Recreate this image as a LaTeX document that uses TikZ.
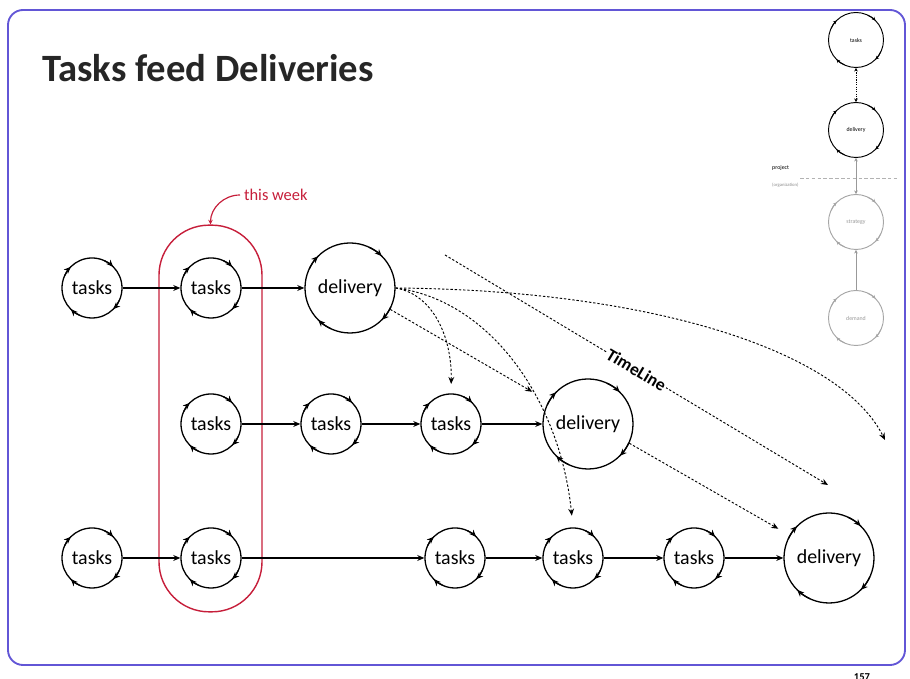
\documentclass[tikz,border=0pt]{standalone}
\usepackage{fontspec}
\setmainfont{Carlito}
\usetikzlibrary{arrows.meta}

\definecolor{framecol}{RGB}{98,86,214}
\definecolor{weekred}{RGB}{198,30,58}

\begin{document}
\begin{tikzpicture}[
		x=0.03cm, y=0.03cm,
		>={Stealth[length=6pt,width=5pt]},
		tasks/.style={circle, draw, line width=1.1pt, minimum size=1.8cm, inner sep=0pt, font=\fontsize{17}{20}\selectfont},
		delivery/.style={tasks, minimum size=2.7cm},
		mini/.style={circle, draw, line width=0.8pt, minimum size=1.65cm, inner sep=0pt, font=\fontsize{5}{6}\selectfont},
		faded/.style={mini, draw=black!35, text=black!40},
		flow/.style={->, line width=1.1pt},
		feed/.style={->, line width=0.8pt, dash pattern=on 2pt off 1.6pt, shorten >=8pt}
		]
		
		\useasboundingbox (0,0) rectangle (910,679);
		\draw[framecol, line width=1.6pt, rounded corners=0.45cm] (8,14) rectangle (905,669);
		
		\node[anchor=base west, inner sep=0pt, font=\bfseries\fontsize{33}{38}\selectfont, text=black!85] (title) at (42,597) {Tasks feed Deliveries};
		\node[font=\bfseries\fontsize{9}{10}\selectfont] (page) at (862,2) {157};
		
		% ---------------------------------------------------------
		% This week
		% ---------------------------------------------------------
		\node[draw=weekred, line width=1.2pt, rounded corners=1.5cm, minimum width=3.09cm, minimum height=11.6cm] (week) at (210.5,260.5) {};
		\node[anchor=west, text=weekred, font=\fontsize{14}{16}\selectfont] (week label) at (240,484) {this week};
		\draw[-{Stealth[length=4pt,width=4pt]}, weekred, line width=1pt] (week label.west) to[out=180, in=90] (week.north);
		
		% ---------------------------------------------------------
		% Rows of tasks and deliveries
		% ---------------------------------------------------------
		\node[tasks] (t11) at (92,391) {tasks};
		\node[tasks] (t12) at (211,391) {tasks};
		\node[delivery] (d1) at (350,391) {delivery};
		
		\node[tasks] (t21) at (211,255) {tasks};
		\node[tasks] (t22) at (331,255) {tasks};
		\node[tasks] (t23) at (451,255) {tasks};
		\node[delivery] (d2) at (588,255) {delivery};
		
		\node[tasks] (t31) at (92,121) {tasks};
		\node[tasks] (t32) at (211,121) {tasks};
		\node[tasks] (t33) at (455,121) {tasks};
		\node[tasks] (t34) at (573,121) {tasks};
		\node[tasks] (t35) at (694,121) {tasks};
		\node[delivery] (d3) at (829,121) {delivery};
		
		% Turning arrows round each circle
		\foreach \n/\r in {t11/30, t12/30, d1/45, t21/30, t22/30, t23/30, d2/45, t31/30, t32/30, t33/30, t34/30, t35/30, d3/45} {
			\foreach \a [evaluate=\a as \b using \a+20] in {135, 45, -45, -135} {
				\draw[->, line width=1.1pt] ([shift={(\b:\r)}]\n.center) arc[start angle=\b, end angle=\a, radius=\r];
			}
		}
		
		% Flow along the rows
		\draw[flow] (t11) -- (t12);
		\draw[flow] (t12) -- (d1);
		\draw[flow] (t21) -- (t22);
		\draw[flow] (t22) -- (t23);
		\draw[flow] (t23) -- (d2);
		\draw[flow] (t31) -- (t32);
		\draw[flow] (t32) -- (t33);
		\draw[flow] (t33) -- (t34);
		\draw[flow] (t34) -- (t35);
		\draw[flow] (t35) -- (d3);
		
		% ---------------------------------------------------------
		% Deliveries feeding later work, and the time line
		% ---------------------------------------------------------
		\coordinate (time start) at (445,424);
		\coordinate (time end) at (828,194);
		\coordinate (far end) at (885,239);
		
		\draw[feed, shorten >=0pt] (time start) -- node[sloped, fill=white, inner sep=1pt, font=\bfseries\fontsize{15}{18}\selectfont] {TimeLine} (time end);
		\draw[feed, shorten >=0pt] (d1.east) .. controls (650,389) and (840,329) .. (far end);
		\draw[feed] (d1.east) .. controls (435,384) and (452,339) .. (t23.north);
		\draw[feed, shorten >=10pt] (d1.east) .. controls (490,379) and (560,279) .. (t34.north);
		\draw[feed, shorten >=16pt] (d1.-28) -- (d2.150);
		\draw[feed, shorten >=11pt] (d2.-25) -- (d3.150);
		
		% ---------------------------------------------------------
		% Small overview, top right
		% ---------------------------------------------------------
		\begin{scope}
			\node[mini] (m1) at (856,639) {tasks};
			\node[mini] (m2) at (856,549) {delivery};
			\node[faded] (m3) at (856,457) {strategy};
			\node[faded] (m4) at (856,361) {demand};
			
			\foreach \n/\c in {m1/black, m2/black, m3/black!35, m4/black!35} {
				\foreach \a [evaluate=\a as \b using \a+20] in {135, 45, -45, -135} {
					\draw[-{Stealth[length=3pt,width=3pt]}, \c, line width=0.8pt] ([shift={(\b:27.5)}]\n.center) arc[start angle=\b, end angle=\a, radius=27.5];
				}
			}
			
			\draw[{Stealth[length=3pt,width=3pt]}-{Stealth[length=3pt,width=3pt]}, line width=0.8pt, dash pattern=on 1pt off 1pt] (m1) -- (m2);
			\draw[{Stealth[length=3pt,width=3pt]}-{Stealth[length=3pt,width=3pt]}, black!40, line width=0.6pt] (m2) -- (m3);
			\draw[-{Stealth[length=3pt,width=3pt]}, black!40, line width=0.6pt] (m4) -- (m3);
			
			\draw[black!30, line width=0.5pt, dash pattern=on 3pt off 2pt] (800,501) -- (898,501);
			\node[anchor=west, inner sep=0pt, font=\fontsize{5}{6}\selectfont] (project) at (772,511) {project};
			\node[anchor=west, inner sep=0pt, text=black!45, font=\fontsize{4}{5}\selectfont] (organization) at (772,494) {(organization)};
		\end{scope}
		
	\end{tikzpicture}
\end{document}
